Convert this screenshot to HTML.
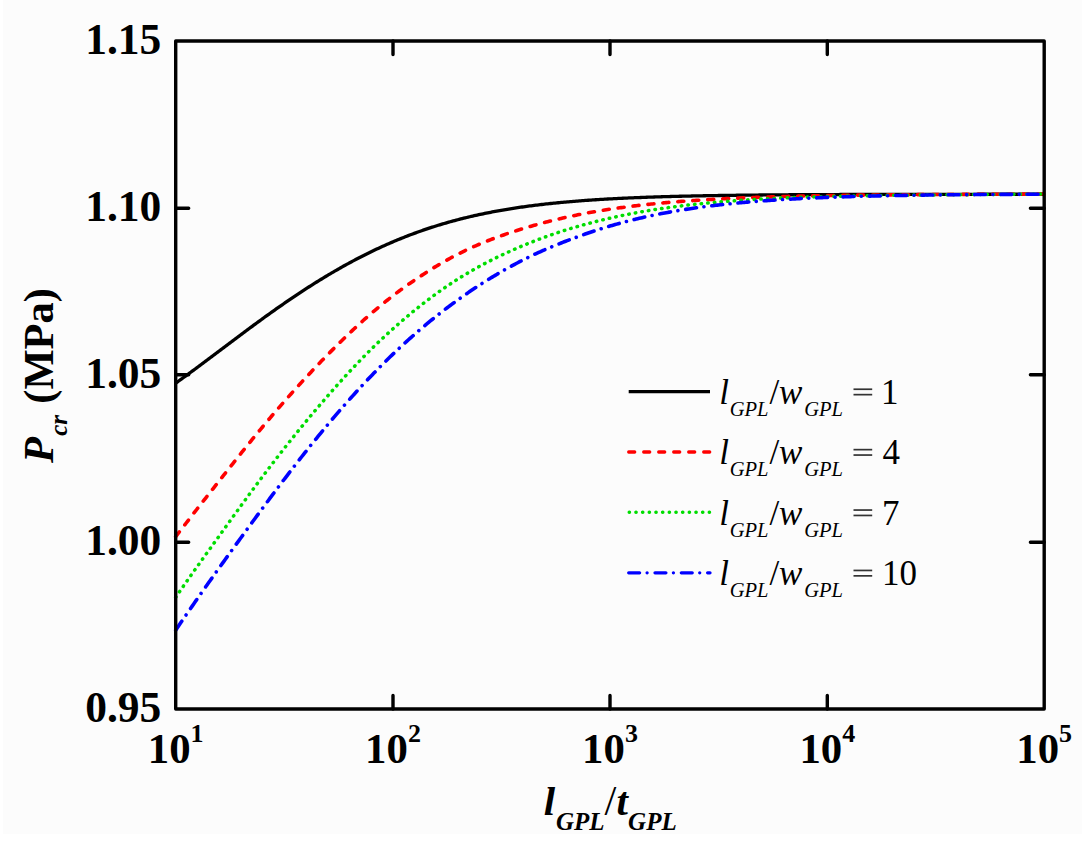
<!DOCTYPE html>
<html><head><meta charset="utf-8"><style>
html,body{margin:0;padding:0;background:#fff;}
svg{display:block;}
text{font-family:"Liberation Serif",serif;}
</style></head><body>
<svg width="1082" height="851" viewBox="0 0 1082 851">
<rect width="1082" height="851" fill="#fff"/>
<rect x="3" y="0" width="1079" height="834" fill="#fcfcfc"/>

<g fill="none" stroke-width="3.3" stroke-linejoin="round">
<path d="M175.70,383.15 L177.20,382.08 L178.70,381.01 L180.20,379.93 L181.70,378.85 L183.20,377.76 L184.70,376.68 L186.20,375.59 L187.70,374.49 L189.20,373.39 L190.70,372.29 L192.20,371.19 L193.70,370.09 L195.20,368.98 L196.70,367.87 L198.20,366.75 L199.70,365.64 L201.20,364.52 L202.70,363.40 L204.20,362.28 L205.70,361.16 L207.20,360.04 L208.70,358.91 L210.20,357.79 L211.70,356.66 L213.20,355.53 L214.70,354.40 L216.20,353.28 L217.70,352.15 L219.20,351.02 L220.70,349.89 L222.20,348.75 L223.70,347.62 L225.20,346.49 L226.70,345.36 L228.20,344.23 L229.70,343.10 L231.20,341.98 L232.70,340.85 L234.20,339.72 L235.70,338.60 L237.20,337.47 L238.70,336.35 L240.20,335.22 L241.70,334.10 L243.20,332.98 L244.70,331.87 L246.20,330.75 L247.70,329.64 L249.20,328.53 L250.70,327.42 L252.20,326.31 L253.70,325.20 L255.20,324.10 L256.70,323.00 L258.20,321.90 L259.70,320.81 L261.20,319.72 L262.70,318.63 L264.20,317.54 L265.70,316.46 L267.20,315.38 L268.70,314.30 L270.20,313.23 L271.70,312.16 L273.20,311.09 L274.70,310.03 L276.20,308.97 L277.70,307.92 L279.20,306.87 L280.70,305.82 L282.20,304.78 L283.70,303.74 L285.20,302.70 L286.70,301.67 L288.20,300.64 L289.70,299.62 L291.20,298.60 L292.70,297.59 L294.20,296.58 L295.70,295.57 L297.20,294.57 L298.70,293.58 L300.20,292.59 L301.70,291.60 L303.20,290.62 L304.70,289.64 L306.20,288.67 L307.70,287.70 L309.20,286.74 L310.70,285.78 L312.20,284.83 L313.70,283.88 L315.20,282.94 L316.70,282.00 L318.20,281.07 L319.70,280.15 L321.20,279.23 L322.70,278.31 L324.20,277.40 L325.70,276.49 L327.20,275.59 L328.70,274.70 L330.20,273.81 L331.70,272.93 L333.20,272.05 L334.70,271.18 L336.20,270.31 L337.70,269.45 L339.20,268.60 L340.70,267.75 L342.20,266.90 L343.70,266.06 L345.20,265.23 L346.70,264.40 L348.20,263.58 L349.70,262.77 L351.20,261.96 L352.70,261.16 L354.20,260.36 L355.70,259.57 L357.20,258.78 L358.70,258.00 L360.20,257.23 L361.70,256.46 L363.20,255.70 L364.70,254.94 L366.20,254.19 L367.70,253.45 L369.20,252.71 L370.70,251.98 L372.20,251.25 L373.70,250.53 L375.20,249.82 L376.70,249.11 L378.20,248.41 L379.70,247.72 L381.20,247.03 L382.70,246.34 L384.20,245.67 L385.70,245.00 L387.20,244.33 L388.70,243.67 L390.20,243.02 L391.70,242.37 L393.20,241.73 L394.70,241.10 L396.20,240.47 L397.70,239.85 L399.20,239.23 L400.70,238.62 L402.20,238.02 L403.70,237.42 L405.20,236.83 L406.70,236.24 L408.20,235.66 L409.70,235.08 L411.20,234.52 L412.70,233.95 L414.20,233.40 L415.70,232.85 L417.20,232.30 L418.70,231.77 L420.20,231.23 L421.70,230.71 L423.20,230.18 L424.70,229.67 L426.20,229.16 L427.70,228.66 L429.20,228.16 L430.70,227.67 L432.20,227.18 L433.70,226.70 L435.20,226.22 L436.70,225.75 L438.20,225.29 L439.70,224.83 L441.20,224.38 L442.70,223.93 L444.20,223.49 L445.70,223.05 L447.20,222.62 L448.70,222.19 L450.20,221.77 L451.70,221.36 L453.20,220.95 L454.70,220.54 L456.20,220.14 L457.70,219.74 L459.20,219.35 L460.70,218.97 L462.20,218.59 L463.70,218.21 L465.20,217.84 L466.70,217.48 L468.20,217.12 L469.70,216.76 L471.20,216.41 L472.70,216.07 L474.20,215.72 L475.70,215.39 L477.20,215.06 L478.70,214.73 L480.20,214.40 L481.70,214.09 L483.20,213.77 L484.70,213.46 L486.20,213.16 L487.70,212.85 L489.20,212.56 L490.70,212.26 L492.20,211.97 L493.70,211.69 L495.20,211.41 L496.70,211.13 L498.20,210.86 L499.70,210.59 L501.20,210.33 L502.70,210.07 L504.20,209.81 L505.70,209.55 L507.20,209.31 L508.70,209.06 L510.20,208.82 L511.70,208.58 L513.20,208.34 L514.70,208.11 L516.20,207.88 L517.70,207.66 L519.20,207.44 L520.70,207.22 L522.20,207.00 L523.70,206.79 L525.20,206.58 L526.70,206.38 L528.20,206.18 L529.70,205.98 L531.20,205.78 L532.70,205.59 L534.20,205.40 L535.70,205.21 L537.20,205.03 L538.70,204.85 L540.20,204.67 L541.70,204.49 L543.20,204.32 L544.70,204.15 L546.20,203.98 L547.70,203.82 L549.20,203.66 L550.70,203.50 L552.20,203.34 L553.70,203.19 L555.20,203.03 L556.70,202.89 L558.20,202.74 L559.70,202.59 L561.20,202.45 L562.70,202.31 L564.20,202.17 L565.70,202.04 L567.20,201.90 L568.70,201.77 L570.20,201.64 L571.70,201.52 L573.20,201.39 L574.70,201.27 L576.20,201.15 L577.70,201.03 L579.20,200.91 L580.70,200.80 L582.20,200.68 L583.70,200.57 L585.20,200.46 L586.70,200.36 L588.20,200.25 L589.70,200.15 L591.20,200.04 L592.70,199.94 L594.20,199.84 L595.70,199.75 L597.20,199.65 L598.70,199.56 L600.20,199.46 L601.70,199.37 L603.20,199.28 L604.70,199.20 L606.20,199.11 L607.70,199.02 L609.20,198.94 L610.70,198.86 L612.20,198.78 L613.70,198.70 L615.20,198.62 L616.70,198.54 L618.20,198.47 L619.70,198.39 L621.20,198.32 L622.70,198.25 L624.20,198.18 L625.70,198.11 L627.20,198.04 L628.70,197.97 L630.20,197.91 L631.70,197.84 L633.20,197.78 L634.70,197.72 L636.20,197.66 L637.70,197.60 L639.20,197.54 L640.70,197.48 L642.20,197.42 L643.70,197.37 L645.20,197.31 L646.70,197.26 L648.20,197.20 L649.70,197.15 L651.20,197.10 L652.70,197.05 L654.20,197.00 L655.70,196.95 L657.20,196.90 L658.70,196.85 L660.20,196.81 L661.70,196.76 L663.20,196.72 L664.70,196.67 L666.20,196.63 L667.70,196.59 L669.20,196.55 L670.70,196.50 L672.20,196.46 L673.70,196.42 L675.20,196.39 L676.70,196.35 L678.20,196.31 L679.70,196.27 L681.20,196.24 L682.70,196.20 L684.20,196.17 L685.70,196.13 L687.20,196.10 L688.70,196.06 L690.20,196.03 L691.70,196.00 L693.20,195.97 L694.70,195.94 L696.20,195.91 L697.70,195.88 L699.20,195.85 L700.70,195.82 L702.20,195.79 L703.70,195.76 L705.20,195.74 L706.70,195.71 L708.20,195.68 L709.70,195.66 L711.20,195.63 L712.70,195.61 L714.20,195.58 L715.70,195.56 L717.20,195.53 L718.70,195.51 L720.20,195.49 L721.70,195.46 L723.20,195.44 L724.70,195.42 L726.20,195.40 L727.70,195.38 L729.20,195.36 L730.70,195.34 L732.20,195.32 L733.70,195.30 L735.20,195.28 L736.70,195.26 L738.20,195.24 L739.70,195.22 L741.20,195.21 L742.70,195.19 L744.20,195.17 L745.70,195.15 L747.20,195.14 L748.70,195.12 L750.20,195.11 L751.70,195.09 L753.20,195.07 L754.70,195.06 L756.20,195.04 L757.70,195.03 L759.20,195.01 L760.70,195.00 L762.20,194.99 L763.70,194.97 L765.20,194.96 L766.70,194.95 L768.20,194.93 L769.70,194.92 L771.20,194.91 L772.70,194.90 L774.20,194.88 L775.70,194.87 L777.20,194.86 L778.70,194.85 L780.20,194.84 L781.70,194.83 L783.20,194.82 L784.70,194.81 L786.20,194.79 L787.70,194.78 L789.20,194.77 L790.70,194.76 L792.20,194.75 L793.70,194.75 L795.20,194.74 L796.70,194.73 L798.20,194.72 L799.70,194.71 L801.20,194.70 L802.70,194.69 L804.20,194.68 L805.70,194.67 L807.20,194.67 L808.70,194.66 L810.20,194.65 L811.70,194.64 L813.20,194.64 L814.70,194.63 L816.20,194.62 L817.70,194.61 L819.20,194.61 L820.70,194.60 L822.20,194.59 L823.70,194.59 L825.20,194.58 L826.70,194.57 L828.20,194.57 L829.70,194.56 L831.20,194.55 L832.70,194.55 L834.20,194.54 L835.70,194.54 L837.20,194.53 L838.70,194.53 L840.20,194.52 L841.70,194.51 L843.20,194.51 L844.70,194.50 L846.20,194.50 L847.70,194.49 L849.20,194.49 L850.70,194.48 L852.20,194.48 L853.70,194.47 L855.20,194.47 L856.70,194.47 L858.20,194.46 L859.70,194.46 L861.20,194.45 L862.70,194.45 L864.20,194.44 L865.70,194.44 L867.20,194.44 L868.70,194.43 L870.20,194.43 L871.70,194.42 L873.20,194.42 L874.70,194.42 L876.20,194.41 L877.70,194.41 L879.20,194.41 L880.70,194.40 L882.20,194.40 L883.70,194.40 L885.20,194.39 L886.70,194.39 L888.20,194.39 L889.70,194.38 L891.20,194.38 L892.70,194.38 L894.20,194.37 L895.70,194.37 L897.20,194.37 L898.70,194.37 L900.20,194.36 L901.70,194.36 L903.20,194.36 L904.70,194.36 L906.20,194.35 L907.70,194.35 L909.20,194.35 L910.70,194.35 L912.20,194.34 L913.70,194.34 L915.20,194.34 L916.70,194.34 L918.20,194.34 L919.70,194.33 L921.20,194.33 L922.70,194.33 L924.20,194.33 L925.70,194.32 L927.20,194.32 L928.70,194.32 L930.20,194.32 L931.70,194.32 L933.20,194.32 L934.70,194.31 L936.20,194.31 L937.70,194.31 L939.20,194.31 L940.70,194.31 L942.20,194.31 L943.70,194.30 L945.20,194.30 L946.70,194.30 L948.20,194.30 L949.70,194.30 L951.20,194.30 L952.70,194.29 L954.20,194.29 L955.70,194.29 L957.20,194.29 L958.70,194.29 L960.20,194.29 L961.70,194.29 L963.20,194.29 L964.70,194.28 L966.20,194.28 L967.70,194.28 L969.20,194.28 L970.70,194.28 L972.20,194.28 L973.70,194.28 L975.20,194.28 L976.70,194.28 L978.20,194.27 L979.70,194.27 L981.20,194.27 L982.70,194.27 L984.20,194.27 L985.70,194.27 L987.20,194.27 L988.70,194.27 L990.20,194.27 L991.70,194.27 L993.20,194.27 L994.70,194.26 L996.20,194.26 L997.70,194.26 L999.20,194.26 L1000.70,194.26 L1002.20,194.26 L1003.70,194.26 L1005.20,194.26 L1006.70,194.26 L1008.20,194.26 L1009.70,194.26 L1011.20,194.26 L1012.70,194.26 L1014.20,194.26 L1015.70,194.25 L1017.20,194.25 L1018.70,194.25 L1020.20,194.25 L1021.70,194.25 L1023.20,194.25 L1024.70,194.25 L1026.20,194.25 L1027.70,194.25 L1029.20,194.25 L1030.70,194.25 L1032.20,194.25 L1033.70,194.25 L1035.20,194.25 L1036.70,194.25 L1038.20,194.25 L1039.70,194.25 L1041.20,194.25 L1042.70,194.25 L1044.20,194.25" stroke="#000"/>
<path d="M175.70,536.71 L177.20,534.74 L178.70,532.77 L180.20,530.81 L181.70,528.85 L183.20,526.90 L184.70,524.95 L186.20,523.01 L187.70,521.07 L189.20,519.13 L190.70,517.20 L192.20,515.27 L193.70,513.35 L195.20,511.43 L196.70,509.51 L198.20,507.59 L199.70,505.68 L201.20,503.76 L202.70,501.85 L204.20,499.94 L205.70,498.04 L207.20,496.13 L208.70,494.22 L210.20,492.32 L211.70,490.41 L213.20,488.51 L214.70,486.61 L216.20,484.70 L217.70,482.80 L219.20,480.89 L220.70,478.99 L222.20,477.08 L223.70,475.18 L225.20,473.28 L226.70,471.38 L228.20,469.48 L229.70,467.58 L231.20,465.69 L232.70,463.79 L234.20,461.90 L235.70,460.02 L237.20,458.13 L238.70,456.25 L240.20,454.37 L241.70,452.49 L243.20,450.62 L244.70,448.75 L246.20,446.89 L247.70,445.03 L249.20,443.18 L250.70,441.33 L252.20,439.48 L253.70,437.64 L255.20,435.81 L256.70,433.98 L258.20,432.16 L259.70,430.34 L261.20,428.53 L262.70,426.73 L264.20,424.93 L265.70,423.14 L267.20,421.35 L268.70,419.58 L270.20,417.80 L271.70,416.04 L273.20,414.28 L274.70,412.53 L276.20,410.78 L277.70,409.04 L279.20,407.31 L280.70,405.59 L282.20,403.87 L283.70,402.15 L285.20,400.45 L286.70,398.75 L288.20,397.05 L289.70,395.36 L291.20,393.68 L292.70,392.01 L294.20,390.34 L295.70,388.68 L297.20,387.02 L298.70,385.37 L300.20,383.73 L301.70,382.09 L303.20,380.46 L304.70,378.84 L306.20,377.22 L307.70,375.60 L309.20,374.00 L310.70,372.40 L312.20,370.80 L313.70,369.21 L315.20,367.63 L316.70,366.05 L318.20,364.48 L319.70,362.92 L321.20,361.36 L322.70,359.81 L324.20,358.26 L325.70,356.72 L327.20,355.19 L328.70,353.66 L330.20,352.13 L331.70,350.62 L333.20,349.11 L334.70,347.61 L336.20,346.11 L337.70,344.62 L339.20,343.14 L340.70,341.67 L342.20,340.20 L343.70,338.74 L345.20,337.29 L346.70,335.85 L348.20,334.41 L349.70,332.99 L351.20,331.57 L352.70,330.15 L354.20,328.75 L355.70,327.36 L357.20,325.97 L358.70,324.60 L360.20,323.23 L361.70,321.87 L363.20,320.52 L364.70,319.18 L366.20,317.85 L367.70,316.52 L369.20,315.21 L370.70,313.91 L372.20,312.61 L373.70,311.33 L375.20,310.06 L376.70,308.79 L378.20,307.54 L379.70,306.29 L381.20,305.06 L382.70,303.84 L384.20,302.62 L385.70,301.42 L387.20,300.23 L388.70,299.04 L390.20,297.87 L391.70,296.71 L393.20,295.55 L394.70,294.41 L396.20,293.27 L397.70,292.15 L399.20,291.03 L400.70,289.92 L402.20,288.83 L403.70,287.74 L405.20,286.66 L406.70,285.59 L408.20,284.53 L409.70,283.48 L411.20,282.43 L412.70,281.40 L414.20,280.37 L415.70,279.35 L417.20,278.34 L418.70,277.34 L420.20,276.35 L421.70,275.37 L423.20,274.39 L424.70,273.42 L426.20,272.46 L427.70,271.51 L429.20,270.57 L430.70,269.63 L432.20,268.70 L433.70,267.78 L435.20,266.87 L436.70,265.97 L438.20,265.08 L439.70,264.19 L441.20,263.31 L442.70,262.45 L444.20,261.59 L445.70,260.74 L447.20,259.90 L448.70,259.07 L450.20,258.25 L451.70,257.44 L453.20,256.64 L454.70,255.85 L456.20,255.06 L457.70,254.29 L459.20,253.53 L460.70,252.78 L462.20,252.04 L463.70,251.31 L465.20,250.59 L466.70,249.87 L468.20,249.17 L469.70,248.47 L471.20,247.79 L472.70,247.11 L474.20,246.44 L475.70,245.78 L477.20,245.13 L478.70,244.48 L480.20,243.85 L481.70,243.22 L483.20,242.60 L484.70,241.99 L486.20,241.39 L487.70,240.79 L489.20,240.20 L490.70,239.62 L492.20,239.04 L493.70,238.48 L495.20,237.91 L496.70,237.36 L498.20,236.81 L499.70,236.27 L501.20,235.74 L502.70,235.21 L504.20,234.69 L505.70,234.17 L507.20,233.66 L508.70,233.16 L510.20,232.66 L511.70,232.16 L513.20,231.68 L514.70,231.19 L516.20,230.72 L517.70,230.24 L519.20,229.77 L520.70,229.31 L522.20,228.85 L523.70,228.40 L525.20,227.95 L526.70,227.50 L528.20,227.06 L529.70,226.63 L531.20,226.19 L532.70,225.76 L534.20,225.34 L535.70,224.92 L537.20,224.50 L538.70,224.09 L540.20,223.68 L541.70,223.28 L543.20,222.88 L544.70,222.49 L546.20,222.10 L547.70,221.71 L549.20,221.33 L550.70,220.95 L552.20,220.57 L553.70,220.20 L555.20,219.84 L556.70,219.48 L558.20,219.12 L559.70,218.77 L561.20,218.42 L562.70,218.07 L564.20,217.73 L565.70,217.40 L567.20,217.06 L568.70,216.74 L570.20,216.41 L571.70,216.09 L573.20,215.78 L574.70,215.46 L576.20,215.16 L577.70,214.85 L579.20,214.55 L580.70,214.26 L582.20,213.97 L583.70,213.68 L585.20,213.39 L586.70,213.11 L588.20,212.84 L589.70,212.56 L591.20,212.29 L592.70,212.03 L594.20,211.77 L595.70,211.51 L597.20,211.25 L598.70,211.00 L600.20,210.75 L601.70,210.51 L603.20,210.26 L604.70,210.03 L606.20,209.79 L607.70,209.56 L609.20,209.33 L610.70,209.10 L612.20,208.88 L613.70,208.66 L615.20,208.45 L616.70,208.23 L618.20,208.02 L619.70,207.81 L621.20,207.61 L622.70,207.41 L624.20,207.21 L625.70,207.01 L627.20,206.82 L628.70,206.63 L630.20,206.44 L631.70,206.25 L633.20,206.07 L634.70,205.89 L636.20,205.71 L637.70,205.54 L639.20,205.37 L640.70,205.20 L642.20,205.03 L643.70,204.86 L645.20,204.70 L646.70,204.54 L648.20,204.38 L649.70,204.22 L651.20,204.07 L652.70,203.92 L654.20,203.77 L655.70,203.62 L657.20,203.47 L658.70,203.33 L660.20,203.19 L661.70,203.05 L663.20,202.91 L664.70,202.78 L666.20,202.64 L667.70,202.51 L669.20,202.38 L670.70,202.26 L672.20,202.13 L673.70,202.01 L675.20,201.88 L676.70,201.76 L678.20,201.64 L679.70,201.53 L681.20,201.41 L682.70,201.30 L684.20,201.19 L685.70,201.08 L687.20,200.97 L688.70,200.86 L690.20,200.76 L691.70,200.65 L693.20,200.55 L694.70,200.45 L696.20,200.35 L697.70,200.25 L699.20,200.15 L700.70,200.06 L702.20,199.97 L703.70,199.87 L705.20,199.78 L706.70,199.69 L708.20,199.61 L709.70,199.52 L711.20,199.43 L712.70,199.35 L714.20,199.27 L715.70,199.18 L717.20,199.10 L718.70,199.02 L720.20,198.95 L721.70,198.87 L723.20,198.79 L724.70,198.72 L726.20,198.65 L727.70,198.57 L729.20,198.50 L730.70,198.43 L732.20,198.36 L733.70,198.29 L735.20,198.23 L736.70,198.16 L738.20,198.10 L739.70,198.03 L741.20,197.97 L742.70,197.91 L744.20,197.85 L745.70,197.78 L747.20,197.73 L748.70,197.67 L750.20,197.61 L751.70,197.55 L753.20,197.50 L754.70,197.44 L756.20,197.39 L757.70,197.34 L759.20,197.28 L760.70,197.23 L762.20,197.18 L763.70,197.13 L765.20,197.08 L766.70,197.03 L768.20,196.99 L769.70,196.94 L771.20,196.89 L772.70,196.85 L774.20,196.80 L775.70,196.76 L777.20,196.71 L778.70,196.67 L780.20,196.63 L781.70,196.59 L783.20,196.55 L784.70,196.51 L786.20,196.47 L787.70,196.43 L789.20,196.39 L790.70,196.35 L792.20,196.32 L793.70,196.28 L795.20,196.24 L796.70,196.21 L798.20,196.17 L799.70,196.14 L801.20,196.11 L802.70,196.07 L804.20,196.04 L805.70,196.01 L807.20,195.98 L808.70,195.95 L810.20,195.92 L811.70,195.89 L813.20,195.86 L814.70,195.83 L816.20,195.80 L817.70,195.77 L819.20,195.74 L820.70,195.72 L822.20,195.69 L823.70,195.66 L825.20,195.64 L826.70,195.61 L828.20,195.59 L829.70,195.56 L831.20,195.54 L832.70,195.51 L834.20,195.49 L835.70,195.47 L837.20,195.44 L838.70,195.42 L840.20,195.40 L841.70,195.38 L843.20,195.36 L844.70,195.34 L846.20,195.32 L847.70,195.30 L849.20,195.28 L850.70,195.26 L852.20,195.24 L853.70,195.22 L855.20,195.20 L856.70,195.18 L858.20,195.16 L859.70,195.14 L861.20,195.13 L862.70,195.11 L864.20,195.09 L865.70,195.08 L867.20,195.06 L868.70,195.04 L870.20,195.03 L871.70,195.01 L873.20,195.00 L874.70,194.98 L876.20,194.97 L877.70,194.95 L879.20,194.94 L880.70,194.92 L882.20,194.91 L883.70,194.90 L885.20,194.88 L886.70,194.87 L888.20,194.86 L889.70,194.84 L891.20,194.83 L892.70,194.82 L894.20,194.81 L895.70,194.79 L897.20,194.78 L898.70,194.77 L900.20,194.76 L901.70,194.75 L903.20,194.74 L904.70,194.72 L906.20,194.71 L907.70,194.70 L909.20,194.69 L910.70,194.68 L912.20,194.67 L913.70,194.66 L915.20,194.65 L916.70,194.64 L918.20,194.63 L919.70,194.62 L921.20,194.61 L922.70,194.60 L924.20,194.59 L925.70,194.59 L927.20,194.58 L928.70,194.57 L930.20,194.56 L931.70,194.55 L933.20,194.54 L934.70,194.53 L936.20,194.53 L937.70,194.52 L939.20,194.51 L940.70,194.50 L942.20,194.49 L943.70,194.49 L945.20,194.48 L946.70,194.47 L948.20,194.46 L949.70,194.45 L951.20,194.45 L952.70,194.44 L954.20,194.43 L955.70,194.43 L957.20,194.42 L958.70,194.41 L960.20,194.40 L961.70,194.40 L963.20,194.39 L964.70,194.38 L966.20,194.38 L967.70,194.37 L969.20,194.36 L970.70,194.36 L972.20,194.35 L973.70,194.34 L975.20,194.34 L976.70,194.33 L978.20,194.32 L979.70,194.32 L981.20,194.31 L982.70,194.31 L984.20,194.30 L985.70,194.29 L987.20,194.29 L988.70,194.28 L990.20,194.27 L991.70,194.27 L993.20,194.26 L994.70,194.26 L996.20,194.25 L997.70,194.24 L999.20,194.24 L1000.70,194.23 L1002.20,194.23 L1003.70,194.22 L1005.20,194.21 L1006.70,194.21 L1008.20,194.20 L1009.70,194.20 L1011.20,194.19 L1012.70,194.18 L1014.20,194.18 L1015.70,194.17 L1017.20,194.17 L1018.70,194.16 L1020.20,194.15 L1021.70,194.15 L1023.20,194.14 L1024.70,194.13 L1026.20,194.13 L1027.70,194.12 L1029.20,194.12 L1030.70,194.11 L1032.20,194.10 L1033.70,194.10 L1035.20,194.09 L1036.70,194.08 L1038.20,194.08 L1039.70,194.07 L1041.20,194.07 L1042.70,194.06 L1044.20,194.05" stroke="#f00" stroke-dasharray="6 9" stroke-linecap="round" stroke-width="3.6"/>
<path d="M175.70,597.34 L177.20,595.14 L178.70,592.94 L180.20,590.76 L181.70,588.58 L183.20,586.42 L184.70,584.26 L186.20,582.11 L187.70,579.97 L189.20,577.84 L190.70,575.71 L192.20,573.59 L193.70,571.47 L195.20,569.37 L196.70,567.26 L198.20,565.16 L199.70,563.06 L201.20,560.97 L202.70,558.88 L204.20,556.79 L205.70,554.71 L207.20,552.62 L208.70,550.54 L210.20,548.46 L211.70,546.38 L213.20,544.30 L214.70,542.21 L216.20,540.13 L217.70,538.04 L219.20,535.96 L220.70,533.87 L222.20,531.79 L223.70,529.70 L225.20,527.62 L226.70,525.53 L228.20,523.45 L229.70,521.36 L231.20,519.28 L232.70,517.20 L234.20,515.13 L235.70,513.05 L237.20,510.98 L238.70,508.91 L240.20,506.85 L241.70,504.78 L243.20,502.72 L244.70,500.67 L246.20,498.62 L247.70,496.58 L249.20,494.54 L250.70,492.50 L252.20,490.47 L253.70,488.44 L255.20,486.42 L256.70,484.41 L258.20,482.40 L259.70,480.39 L261.20,478.39 L262.70,476.40 L264.20,474.41 L265.70,472.43 L267.20,470.45 L268.70,468.48 L270.20,466.52 L271.70,464.56 L273.20,462.61 L274.70,460.66 L276.20,458.72 L277.70,456.79 L279.20,454.86 L280.70,452.93 L282.20,451.02 L283.70,449.11 L285.20,447.21 L286.70,445.31 L288.20,443.42 L289.70,441.54 L291.20,439.66 L292.70,437.79 L294.20,435.92 L295.70,434.07 L297.20,432.21 L298.70,430.37 L300.20,428.53 L301.70,426.70 L303.20,424.87 L304.70,423.05 L306.20,421.24 L307.70,419.43 L309.20,417.63 L310.70,415.84 L312.20,414.05 L313.70,412.27 L315.20,410.50 L316.70,408.73 L318.20,406.97 L319.70,405.21 L321.20,403.46 L322.70,401.72 L324.20,399.98 L325.70,398.25 L327.20,396.53 L328.70,394.81 L330.20,393.10 L331.70,391.39 L333.20,389.69 L334.70,387.99 L336.20,386.31 L337.70,384.63 L339.20,382.95 L340.70,381.29 L342.20,379.63 L343.70,377.98 L345.20,376.34 L346.70,374.70 L348.20,373.08 L349.70,371.46 L351.20,369.85 L352.70,368.24 L354.20,366.65 L355.70,365.07 L357.20,363.49 L358.70,361.93 L360.20,360.37 L361.70,358.82 L363.20,357.28 L364.70,355.75 L366.20,354.23 L367.70,352.72 L369.20,351.23 L370.70,349.74 L372.20,348.26 L373.70,346.79 L375.20,345.33 L376.70,343.88 L378.20,342.44 L379.70,341.01 L381.20,339.59 L382.70,338.18 L384.20,336.78 L385.70,335.39 L387.20,334.01 L388.70,332.63 L390.20,331.27 L391.70,329.92 L393.20,328.57 L394.70,327.24 L396.20,325.91 L397.70,324.59 L399.20,323.29 L400.70,321.99 L402.20,320.70 L403.70,319.41 L405.20,318.14 L406.70,316.88 L408.20,315.62 L409.70,314.37 L411.20,313.13 L412.70,311.90 L414.20,310.68 L415.70,309.46 L417.20,308.26 L418.70,307.06 L420.20,305.87 L421.70,304.69 L423.20,303.52 L424.70,302.36 L426.20,301.21 L427.70,300.06 L429.20,298.93 L430.70,297.80 L432.20,296.69 L433.70,295.58 L435.20,294.48 L436.70,293.39 L438.20,292.31 L439.70,291.24 L441.20,290.18 L442.70,289.13 L444.20,288.09 L445.70,287.06 L447.20,286.04 L448.70,285.03 L450.20,284.03 L451.70,283.04 L453.20,282.05 L454.70,281.08 L456.20,280.12 L457.70,279.17 L459.20,278.23 L460.70,277.30 L462.20,276.38 L463.70,275.46 L465.20,274.56 L466.70,273.66 L468.20,272.78 L469.70,271.90 L471.20,271.03 L472.70,270.17 L474.20,269.32 L475.70,268.48 L477.20,267.65 L478.70,266.82 L480.20,266.00 L481.70,265.20 L483.20,264.39 L484.70,263.60 L486.20,262.81 L487.70,262.04 L489.20,261.27 L490.70,260.50 L492.20,259.75 L493.70,259.00 L495.20,258.25 L496.70,257.52 L498.20,256.79 L499.70,256.07 L501.20,255.35 L502.70,254.64 L504.20,253.94 L505.70,253.24 L507.20,252.55 L508.70,251.87 L510.20,251.19 L511.70,250.52 L513.20,249.85 L514.70,249.19 L516.20,248.54 L517.70,247.89 L519.20,247.24 L520.70,246.61 L522.20,245.98 L523.70,245.35 L525.20,244.73 L526.70,244.12 L528.20,243.51 L529.70,242.91 L531.20,242.31 L532.70,241.72 L534.20,241.13 L535.70,240.55 L537.20,239.98 L538.70,239.41 L540.20,238.85 L541.70,238.29 L543.20,237.74 L544.70,237.19 L546.20,236.65 L547.70,236.11 L549.20,235.58 L550.70,235.05 L552.20,234.53 L553.70,234.02 L555.20,233.51 L556.70,233.00 L558.20,232.50 L559.70,232.01 L561.20,231.52 L562.70,231.03 L564.20,230.56 L565.70,230.08 L567.20,229.61 L568.70,229.15 L570.20,228.69 L571.70,228.23 L573.20,227.78 L574.70,227.34 L576.20,226.89 L577.70,226.46 L579.20,226.03 L580.70,225.60 L582.20,225.18 L583.70,224.76 L585.20,224.35 L586.70,223.94 L588.20,223.54 L589.70,223.14 L591.20,222.74 L592.70,222.35 L594.20,221.96 L595.70,221.58 L597.20,221.20 L598.70,220.83 L600.20,220.46 L601.70,220.10 L603.20,219.73 L604.70,219.38 L606.20,219.02 L607.70,218.68 L609.20,218.33 L610.70,217.99 L612.20,217.65 L613.70,217.32 L615.20,216.99 L616.70,216.67 L618.20,216.34 L619.70,216.03 L621.20,215.71 L622.70,215.40 L624.20,215.10 L625.70,214.79 L627.20,214.49 L628.70,214.20 L630.20,213.91 L631.70,213.62 L633.20,213.33 L634.70,213.05 L636.20,212.77 L637.70,212.50 L639.20,212.23 L640.70,211.96 L642.20,211.70 L643.70,211.43 L645.20,211.18 L646.70,210.92 L648.20,210.67 L649.70,210.42 L651.20,210.18 L652.70,209.94 L654.20,209.70 L655.70,209.46 L657.20,209.23 L658.70,209.00 L660.20,208.77 L661.70,208.55 L663.20,208.33 L664.70,208.11 L666.20,207.90 L667.70,207.69 L669.20,207.48 L670.70,207.27 L672.20,207.07 L673.70,206.87 L675.20,206.67 L676.70,206.47 L678.20,206.28 L679.70,206.09 L681.20,205.91 L682.70,205.72 L684.20,205.54 L685.70,205.36 L687.20,205.19 L688.70,205.01 L690.20,204.84 L691.70,204.67 L693.20,204.51 L694.70,204.34 L696.20,204.18 L697.70,204.02 L699.20,203.87 L700.70,203.71 L702.20,203.56 L703.70,203.41 L705.20,203.26 L706.70,203.12 L708.20,202.97 L709.70,202.83 L711.20,202.69 L712.70,202.55 L714.20,202.42 L715.70,202.29 L717.20,202.16 L718.70,202.03 L720.20,201.90 L721.70,201.77 L723.20,201.65 L724.70,201.53 L726.20,201.41 L727.70,201.29 L729.20,201.18 L730.70,201.06 L732.20,200.95 L733.70,200.84 L735.20,200.73 L736.70,200.62 L738.20,200.52 L739.70,200.41 L741.20,200.31 L742.70,200.21 L744.20,200.11 L745.70,200.01 L747.20,199.91 L748.70,199.82 L750.20,199.73 L751.70,199.63 L753.20,199.54 L754.70,199.45 L756.20,199.37 L757.70,199.28 L759.20,199.20 L760.70,199.11 L762.20,199.03 L763.70,198.95 L765.20,198.87 L766.70,198.79 L768.20,198.71 L769.70,198.64 L771.20,198.56 L772.70,198.49 L774.20,198.42 L775.70,198.35 L777.20,198.28 L778.70,198.21 L780.20,198.14 L781.70,198.07 L783.20,198.01 L784.70,197.95 L786.20,197.88 L787.70,197.82 L789.20,197.76 L790.70,197.70 L792.20,197.64 L793.70,197.58 L795.20,197.52 L796.70,197.47 L798.20,197.41 L799.70,197.36 L801.20,197.30 L802.70,197.25 L804.20,197.20 L805.70,197.15 L807.20,197.10 L808.70,197.05 L810.20,197.00 L811.70,196.95 L813.20,196.91 L814.70,196.86 L816.20,196.82 L817.70,196.77 L819.20,196.73 L820.70,196.68 L822.20,196.64 L823.70,196.60 L825.20,196.56 L826.70,196.52 L828.20,196.48 L829.70,196.44 L831.20,196.40 L832.70,196.37 L834.20,196.33 L835.70,196.29 L837.20,196.26 L838.70,196.22 L840.20,196.19 L841.70,196.16 L843.20,196.12 L844.70,196.09 L846.20,196.06 L847.70,196.03 L849.20,196.00 L850.70,195.97 L852.20,195.94 L853.70,195.91 L855.20,195.88 L856.70,195.85 L858.20,195.82 L859.70,195.79 L861.20,195.77 L862.70,195.74 L864.20,195.72 L865.70,195.69 L867.20,195.67 L868.70,195.64 L870.20,195.62 L871.70,195.59 L873.20,195.57 L874.70,195.55 L876.20,195.52 L877.70,195.50 L879.20,195.48 L880.70,195.46 L882.20,195.44 L883.70,195.42 L885.20,195.40 L886.70,195.38 L888.20,195.36 L889.70,195.34 L891.20,195.32 L892.70,195.30 L894.20,195.28 L895.70,195.26 L897.20,195.25 L898.70,195.23 L900.20,195.21 L901.70,195.19 L903.20,195.18 L904.70,195.16 L906.20,195.15 L907.70,195.13 L909.20,195.11 L910.70,195.10 L912.20,195.08 L913.70,195.07 L915.20,195.05 L916.70,195.04 L918.20,195.02 L919.70,195.01 L921.20,195.00 L922.70,194.98 L924.20,194.97 L925.70,194.96 L927.20,194.94 L928.70,194.93 L930.20,194.92 L931.70,194.90 L933.20,194.89 L934.70,194.88 L936.20,194.87 L937.70,194.86 L939.20,194.84 L940.70,194.83 L942.20,194.82 L943.70,194.81 L945.20,194.80 L946.70,194.78 L948.20,194.77 L949.70,194.76 L951.20,194.75 L952.70,194.74 L954.20,194.73 L955.70,194.72 L957.20,194.71 L958.70,194.70 L960.20,194.69 L961.70,194.68 L963.20,194.67 L964.70,194.66 L966.20,194.64 L967.70,194.63 L969.20,194.62 L970.70,194.61 L972.20,194.60 L973.70,194.59 L975.20,194.58 L976.70,194.57 L978.20,194.56 L979.70,194.55 L981.20,194.54 L982.70,194.53 L984.20,194.52 L985.70,194.51 L987.20,194.50 L988.70,194.49 L990.20,194.48 L991.70,194.47 L993.20,194.46 L994.70,194.45 L996.20,194.44 L997.70,194.43 L999.20,194.42 L1000.70,194.41 L1002.20,194.40 L1003.70,194.39 L1005.20,194.38 L1006.70,194.37 L1008.20,194.36 L1009.70,194.35 L1011.20,194.34 L1012.70,194.33 L1014.20,194.32 L1015.70,194.31 L1017.20,194.30 L1018.70,194.29 L1020.20,194.27 L1021.70,194.26 L1023.20,194.25 L1024.70,194.24 L1026.20,194.23 L1027.70,194.22 L1029.20,194.21 L1030.70,194.20 L1032.20,194.18 L1033.70,194.17 L1035.20,194.16 L1036.70,194.15 L1038.20,194.14 L1039.70,194.12 L1041.20,194.11 L1042.70,194.10 L1044.20,194.09" stroke="#00dd00" stroke-dasharray="0.5 6.15" stroke-linecap="round" stroke-width="3.5"/>
<path d="M175.70,630.20 L177.20,627.98 L178.70,625.77 L180.20,623.56 L181.70,621.36 L183.20,619.16 L184.70,616.97 L186.20,614.79 L187.70,612.61 L189.20,610.43 L190.70,608.26 L192.20,606.10 L193.70,603.94 L195.20,601.78 L196.70,599.63 L198.20,597.49 L199.70,595.35 L201.20,593.21 L202.70,591.08 L204.20,588.95 L205.70,586.82 L207.20,584.70 L208.70,582.58 L210.20,580.47 L211.70,578.36 L213.20,576.25 L214.70,574.14 L216.20,572.04 L217.70,569.94 L219.20,567.85 L220.70,565.76 L222.20,563.67 L223.70,561.58 L225.20,559.49 L226.70,557.41 L228.20,555.33 L229.70,553.25 L231.20,551.18 L232.70,549.10 L234.20,547.03 L235.70,544.96 L237.20,542.89 L238.70,540.83 L240.20,538.76 L241.70,536.70 L243.20,534.63 L244.70,532.57 L246.20,530.51 L247.70,528.46 L249.20,526.40 L250.70,524.35 L252.20,522.30 L253.70,520.25 L255.20,518.21 L256.70,516.17 L258.20,514.13 L259.70,512.09 L261.20,510.06 L262.70,508.03 L264.20,506.01 L265.70,503.98 L267.20,501.97 L268.70,499.95 L270.20,497.94 L271.70,495.93 L273.20,493.93 L274.70,491.93 L276.20,489.94 L277.70,487.95 L279.20,485.96 L280.70,483.98 L282.20,482.00 L283.70,480.03 L285.20,478.06 L286.70,476.10 L288.20,474.14 L289.70,472.19 L291.20,470.24 L292.70,468.30 L294.20,466.36 L295.70,464.43 L297.20,462.51 L298.70,460.59 L300.20,458.67 L301.70,456.76 L303.20,454.86 L304.70,452.96 L306.20,451.07 L307.70,449.19 L309.20,447.31 L310.70,445.44 L312.20,443.57 L313.70,441.72 L315.20,439.86 L316.70,438.02 L318.20,436.18 L319.70,434.35 L321.20,432.52 L322.70,430.71 L324.20,428.90 L325.70,427.09 L327.20,425.29 L328.70,423.51 L330.20,421.72 L331.70,419.95 L333.20,418.18 L334.70,416.42 L336.20,414.66 L337.70,412.92 L339.20,411.18 L340.70,409.45 L342.20,407.72 L343.70,406.00 L345.20,404.29 L346.70,402.59 L348.20,400.90 L349.70,399.21 L351.20,397.53 L352.70,395.86 L354.20,394.20 L355.70,392.54 L357.20,390.90 L358.70,389.26 L360.20,387.63 L361.70,386.01 L363.20,384.39 L364.70,382.79 L366.20,381.19 L367.70,379.60 L369.20,378.02 L370.70,376.45 L372.20,374.89 L373.70,373.33 L375.20,371.79 L376.70,370.25 L378.20,368.72 L379.70,367.20 L381.20,365.69 L382.70,364.19 L384.20,362.69 L385.70,361.21 L387.20,359.73 L388.70,358.27 L390.20,356.81 L391.70,355.36 L393.20,353.92 L394.70,352.49 L396.20,351.07 L397.70,349.66 L399.20,348.25 L400.70,346.86 L402.20,345.47 L403.70,344.09 L405.20,342.72 L406.70,341.36 L408.20,340.01 L409.70,338.66 L411.20,337.33 L412.70,336.00 L414.20,334.68 L415.70,333.37 L417.20,332.07 L418.70,330.78 L420.20,329.49 L421.70,328.22 L423.20,326.95 L424.70,325.69 L426.20,324.44 L427.70,323.20 L429.20,321.96 L430.70,320.73 L432.20,319.52 L433.70,318.30 L435.20,317.10 L436.70,315.91 L438.20,314.72 L439.70,313.54 L441.20,312.37 L442.70,311.21 L444.20,310.05 L445.70,308.90 L447.20,307.77 L448.70,306.63 L450.20,305.51 L451.70,304.39 L453.20,303.29 L454.70,302.18 L456.20,301.09 L457.70,300.01 L459.20,298.93 L460.70,297.86 L462.20,296.80 L463.70,295.74 L465.20,294.70 L466.70,293.66 L468.20,292.62 L469.70,291.60 L471.20,290.58 L472.70,289.57 L474.20,288.57 L475.70,287.58 L477.20,286.59 L478.70,285.61 L480.20,284.64 L481.70,283.67 L483.20,282.72 L484.70,281.77 L486.20,280.83 L487.70,279.89 L489.20,278.96 L490.70,278.04 L492.20,277.13 L493.70,276.22 L495.20,275.33 L496.70,274.44 L498.20,273.55 L499.70,272.68 L501.20,271.81 L502.70,270.95 L504.20,270.09 L505.70,269.25 L507.20,268.41 L508.70,267.57 L510.20,266.75 L511.70,265.93 L513.20,265.12 L514.70,264.32 L516.20,263.52 L517.70,262.73 L519.20,261.95 L520.70,261.18 L522.20,260.41 L523.70,259.65 L525.20,258.90 L526.70,258.16 L528.20,257.42 L529.70,256.69 L531.20,255.96 L532.70,255.25 L534.20,254.54 L535.70,253.84 L537.20,253.14 L538.70,252.46 L540.20,251.78 L541.70,251.11 L543.20,250.44 L544.70,249.78 L546.20,249.13 L547.70,248.49 L549.20,247.85 L550.70,247.22 L552.20,246.60 L553.70,245.98 L555.20,245.37 L556.70,244.76 L558.20,244.16 L559.70,243.56 L561.20,242.97 L562.70,242.38 L564.20,241.80 L565.70,241.23 L567.20,240.65 L568.70,240.08 L570.20,239.52 L571.70,238.96 L573.20,238.40 L574.70,237.85 L576.20,237.30 L577.70,236.75 L579.20,236.21 L580.70,235.67 L582.20,235.13 L583.70,234.60 L585.20,234.07 L586.70,233.55 L588.20,233.03 L589.70,232.52 L591.20,232.01 L592.70,231.51 L594.20,231.01 L595.70,230.51 L597.20,230.02 L598.70,229.53 L600.20,229.05 L601.70,228.58 L603.20,228.11 L604.70,227.64 L606.20,227.18 L607.70,226.73 L609.20,226.28 L610.70,225.84 L612.20,225.40 L613.70,224.96 L615.20,224.53 L616.70,224.11 L618.20,223.69 L619.70,223.28 L621.20,222.87 L622.70,222.46 L624.20,222.06 L625.70,221.67 L627.20,221.28 L628.70,220.90 L630.20,220.51 L631.70,220.14 L633.20,219.77 L634.70,219.40 L636.20,219.04 L637.70,218.68 L639.20,218.33 L640.70,217.98 L642.20,217.64 L643.70,217.30 L645.20,216.96 L646.70,216.63 L648.20,216.30 L649.70,215.98 L651.20,215.66 L652.70,215.34 L654.20,215.03 L655.70,214.73 L657.20,214.42 L658.70,214.12 L660.20,213.83 L661.70,213.54 L663.20,213.25 L664.70,212.97 L666.20,212.69 L667.70,212.41 L669.20,212.14 L670.70,211.87 L672.20,211.60 L673.70,211.34 L675.20,211.08 L676.70,210.83 L678.20,210.58 L679.70,210.33 L681.20,210.09 L682.70,209.85 L684.20,209.61 L685.70,209.37 L687.20,209.14 L688.70,208.91 L690.20,208.69 L691.70,208.47 L693.20,208.25 L694.70,208.03 L696.20,207.82 L697.70,207.61 L699.20,207.40 L700.70,207.20 L702.20,207.00 L703.70,206.80 L705.20,206.60 L706.70,206.41 L708.20,206.22 L709.70,206.03 L711.20,205.85 L712.70,205.67 L714.20,205.49 L715.70,205.31 L717.20,205.13 L718.70,204.96 L720.20,204.79 L721.70,204.63 L723.20,204.46 L724.70,204.30 L726.20,204.14 L727.70,203.98 L729.20,203.83 L730.70,203.67 L732.20,203.52 L733.70,203.37 L735.20,203.23 L736.70,203.08 L738.20,202.94 L739.70,202.80 L741.20,202.66 L742.70,202.53 L744.20,202.39 L745.70,202.26 L747.20,202.13 L748.70,202.00 L750.20,201.88 L751.70,201.75 L753.20,201.63 L754.70,201.51 L756.20,201.39 L757.70,201.27 L759.20,201.16 L760.70,201.04 L762.20,200.93 L763.70,200.82 L765.20,200.71 L766.70,200.60 L768.20,200.50 L769.70,200.39 L771.20,200.29 L772.70,200.19 L774.20,200.09 L775.70,199.99 L777.20,199.90 L778.70,199.80 L780.20,199.71 L781.70,199.62 L783.20,199.53 L784.70,199.44 L786.20,199.35 L787.70,199.26 L789.20,199.18 L790.70,199.09 L792.20,199.01 L793.70,198.93 L795.20,198.85 L796.70,198.77 L798.20,198.69 L799.70,198.62 L801.20,198.54 L802.70,198.47 L804.20,198.39 L805.70,198.32 L807.20,198.25 L808.70,198.18 L810.20,198.11 L811.70,198.04 L813.20,197.98 L814.70,197.91 L816.20,197.85 L817.70,197.78 L819.20,197.72 L820.70,197.66 L822.20,197.60 L823.70,197.54 L825.20,197.48 L826.70,197.42 L828.20,197.36 L829.70,197.31 L831.20,197.25 L832.70,197.20 L834.20,197.14 L835.70,197.09 L837.20,197.04 L838.70,196.99 L840.20,196.94 L841.70,196.89 L843.20,196.84 L844.70,196.79 L846.20,196.74 L847.70,196.70 L849.20,196.65 L850.70,196.61 L852.20,196.56 L853.70,196.52 L855.20,196.48 L856.70,196.43 L858.20,196.39 L859.70,196.35 L861.20,196.31 L862.70,196.27 L864.20,196.23 L865.70,196.19 L867.20,196.16 L868.70,196.12 L870.20,196.08 L871.70,196.05 L873.20,196.01 L874.70,195.98 L876.20,195.94 L877.70,195.91 L879.20,195.87 L880.70,195.84 L882.20,195.81 L883.70,195.78 L885.20,195.75 L886.70,195.72 L888.20,195.69 L889.70,195.66 L891.20,195.63 L892.70,195.60 L894.20,195.57 L895.70,195.54 L897.20,195.51 L898.70,195.49 L900.20,195.46 L901.70,195.43 L903.20,195.41 L904.70,195.38 L906.20,195.36 L907.70,195.33 L909.20,195.31 L910.70,195.29 L912.20,195.26 L913.70,195.24 L915.20,195.22 L916.70,195.20 L918.20,195.17 L919.70,195.15 L921.20,195.13 L922.70,195.11 L924.20,195.09 L925.70,195.07 L927.20,195.05 L928.70,195.03 L930.20,195.01 L931.70,194.99 L933.20,194.98 L934.70,194.96 L936.20,194.94 L937.70,194.92 L939.20,194.91 L940.70,194.89 L942.20,194.87 L943.70,194.86 L945.20,194.84 L946.70,194.82 L948.20,194.81 L949.70,194.79 L951.20,194.78 L952.70,194.76 L954.20,194.75 L955.70,194.74 L957.20,194.72 L958.70,194.71 L960.20,194.70 L961.70,194.68 L963.20,194.67 L964.70,194.66 L966.20,194.64 L967.70,194.63 L969.20,194.62 L970.70,194.61 L972.20,194.60 L973.70,194.59 L975.20,194.57 L976.70,194.56 L978.20,194.55 L979.70,194.54 L981.20,194.53 L982.70,194.52 L984.20,194.51 L985.70,194.50 L987.20,194.49 L988.70,194.48 L990.20,194.47 L991.70,194.46 L993.20,194.46 L994.70,194.45 L996.20,194.44 L997.70,194.43 L999.20,194.42 L1000.70,194.41 L1002.20,194.41 L1003.70,194.40 L1005.20,194.39 L1006.70,194.38 L1008.20,194.38 L1009.70,194.37 L1011.20,194.36 L1012.70,194.36 L1014.20,194.35 L1015.70,194.34 L1017.20,194.34 L1018.70,194.33 L1020.20,194.33 L1021.70,194.32 L1023.20,194.31 L1024.70,194.31 L1026.20,194.30 L1027.70,194.30 L1029.20,194.29 L1030.70,194.29 L1032.20,194.28 L1033.70,194.28 L1035.20,194.27 L1036.70,194.27 L1038.20,194.27 L1039.70,194.26 L1041.20,194.26 L1042.70,194.25 L1044.20,194.25" stroke="#00f" stroke-dasharray="10.9 7.5 0.01 7.9" stroke-linecap="round" stroke-width="3.6"/>
</g>
<rect x="175.7" y="41.0" width="868.5" height="668.0" fill="none" stroke="#000" stroke-width="3.4" stroke-linejoin="round"/>
<path d="M393.0,709.0 V695.5 M393.0,41.0 V54.5 M610.0,709.0 V695.5 M610.0,41.0 V54.5 M827.3,709.0 V695.5 M827.3,41.0 V54.5 M175.7,208.2 H188.7 M1044.2,208.2 H1030.4 M175.7,374.8 H188.7 M1044.2,374.8 H1030.4 M175.7,542.2 H188.7 M1044.2,542.2 H1030.4" stroke="#000" stroke-width="3.4" stroke-linecap="round" fill="none"/>
<text x="161.3" y="53.8" font-size="43.5" font-weight="bold" text-anchor="end">1.15</text>
<text x="161.3" y="221.0" font-size="43.5" font-weight="bold" text-anchor="end">1.10</text>
<text x="161.3" y="387.6" font-size="43.5" font-weight="bold" text-anchor="end">1.05</text>
<text x="161.3" y="555.0" font-size="43.5" font-weight="bold" text-anchor="end">1.00</text>
<text x="161.3" y="721.8" font-size="43.5" font-weight="bold" text-anchor="end">0.95</text>
<text x="147.80" y="762.8" font-size="42.8" font-weight="bold">10<tspan font-size="26" dy="-21">1</tspan></text>
<text x="365.10" y="762.8" font-size="42.8" font-weight="bold">10<tspan font-size="26" dy="-21">2</tspan></text>
<text x="582.10" y="762.8" font-size="42.8" font-weight="bold">10<tspan font-size="26" dy="-21">3</tspan></text>
<text x="799.40" y="762.8" font-size="42.8" font-weight="bold">10<tspan font-size="26" dy="-21">4</tspan></text>
<text x="1016.30" y="762.8" font-size="42.8" font-weight="bold">10<tspan font-size="26" dy="-21">5</tspan></text>
<text transform="rotate(-90)" font-size="42.5" font-weight="bold" font-style="italic" x="-462.9" y="52.8">P</text>
<text transform="rotate(-90)" font-size="25" font-weight="bold" font-style="italic" x="-435.8" y="67">cr</text>
<text transform="rotate(-90)" font-size="42.5" font-weight="bold" x="-403.7" y="52.8">(MPa)</text>
<g font-weight="bold" font-style="italic">
<text x="543.8" y="815" font-size="41">l</text>
<text x="555.9" y="830.4" font-size="25">GPL</text>
<text x="604.6" y="815.3" font-size="42.5" font-style="normal" font-weight="normal">/</text>
<text x="616.5" y="815" font-size="41">t</text>
<text x="628.1" y="830.4" font-size="25">GPL</text>
</g>
<path d="M628.7,391.7 H710" stroke="#000" stroke-width="3.3" fill="none" />
<g font-size="35">
<text x="719.3" y="404.0" font-style="italic">l</text>
<text x="729.7" y="416.0" font-style="italic" font-size="20.5">GPL</text>
<text x="769.5" y="404.0">/</text>
<text x="779.1" y="404.0" font-style="italic">w</text>
<text x="804.2" y="416.0" font-style="italic" font-size="20.5">GPL</text>
<rect x="853.5" y="388.4" width="18.7" height="1.7" fill="#333"/>
<rect x="853.5" y="393.8" width="18.7" height="1.7" fill="#333"/>
<text x="881.0" y="404.0">1</text>
</g>
<path d="M628.7,452.0 H710" stroke="#f00" stroke-width="3.3" fill="none" stroke-dasharray="6 9" stroke-linecap="round"/>
<g font-size="35">
<text x="719.3" y="464.4" font-style="italic">l</text>
<text x="729.7" y="476.4" font-style="italic" font-size="20.5">GPL</text>
<text x="769.5" y="464.4">/</text>
<text x="779.1" y="464.4" font-style="italic">w</text>
<text x="804.2" y="476.4" font-style="italic" font-size="20.5">GPL</text>
<rect x="853.5" y="448.8" width="18.7" height="1.7" fill="#333"/>
<rect x="853.5" y="454.2" width="18.7" height="1.7" fill="#333"/>
<text x="882.4" y="464.4">4</text>
</g>
<path d="M629.2,512.3 H710" stroke="#00dd00" stroke-width="3.4" fill="none" stroke-dasharray="0.3 6.37" stroke-linecap="round"/>
<g font-size="35">
<text x="719.3" y="524.8" font-style="italic">l</text>
<text x="729.7" y="536.8" font-style="italic" font-size="20.5">GPL</text>
<text x="769.5" y="524.8">/</text>
<text x="779.1" y="524.8" font-style="italic">w</text>
<text x="804.2" y="536.8" font-style="italic" font-size="20.5">GPL</text>
<rect x="853.5" y="509.2" width="18.7" height="1.7" fill="#333"/>
<rect x="853.5" y="514.6" width="18.7" height="1.7" fill="#333"/>
<text x="882.0" y="524.8">7</text>
</g>
<path d="M628.7,572.8 H710" stroke="#00f" stroke-width="3.3" fill="none" stroke-dasharray="10.9 7.5 0.01 7.9" stroke-linecap="round"/>
<g font-size="35">
<text x="719.3" y="585.2" font-style="italic">l</text>
<text x="729.7" y="597.2" font-style="italic" font-size="20.5">GPL</text>
<text x="769.5" y="585.2">/</text>
<text x="779.1" y="585.2" font-style="italic">w</text>
<text x="804.2" y="597.2" font-style="italic" font-size="20.5">GPL</text>
<rect x="853.5" y="569.6" width="18.7" height="1.7" fill="#333"/>
<rect x="853.5" y="575.0" width="18.7" height="1.7" fill="#333"/>
<text x="882.1" y="585.2">10</text>
</g>
</svg></body></html>
